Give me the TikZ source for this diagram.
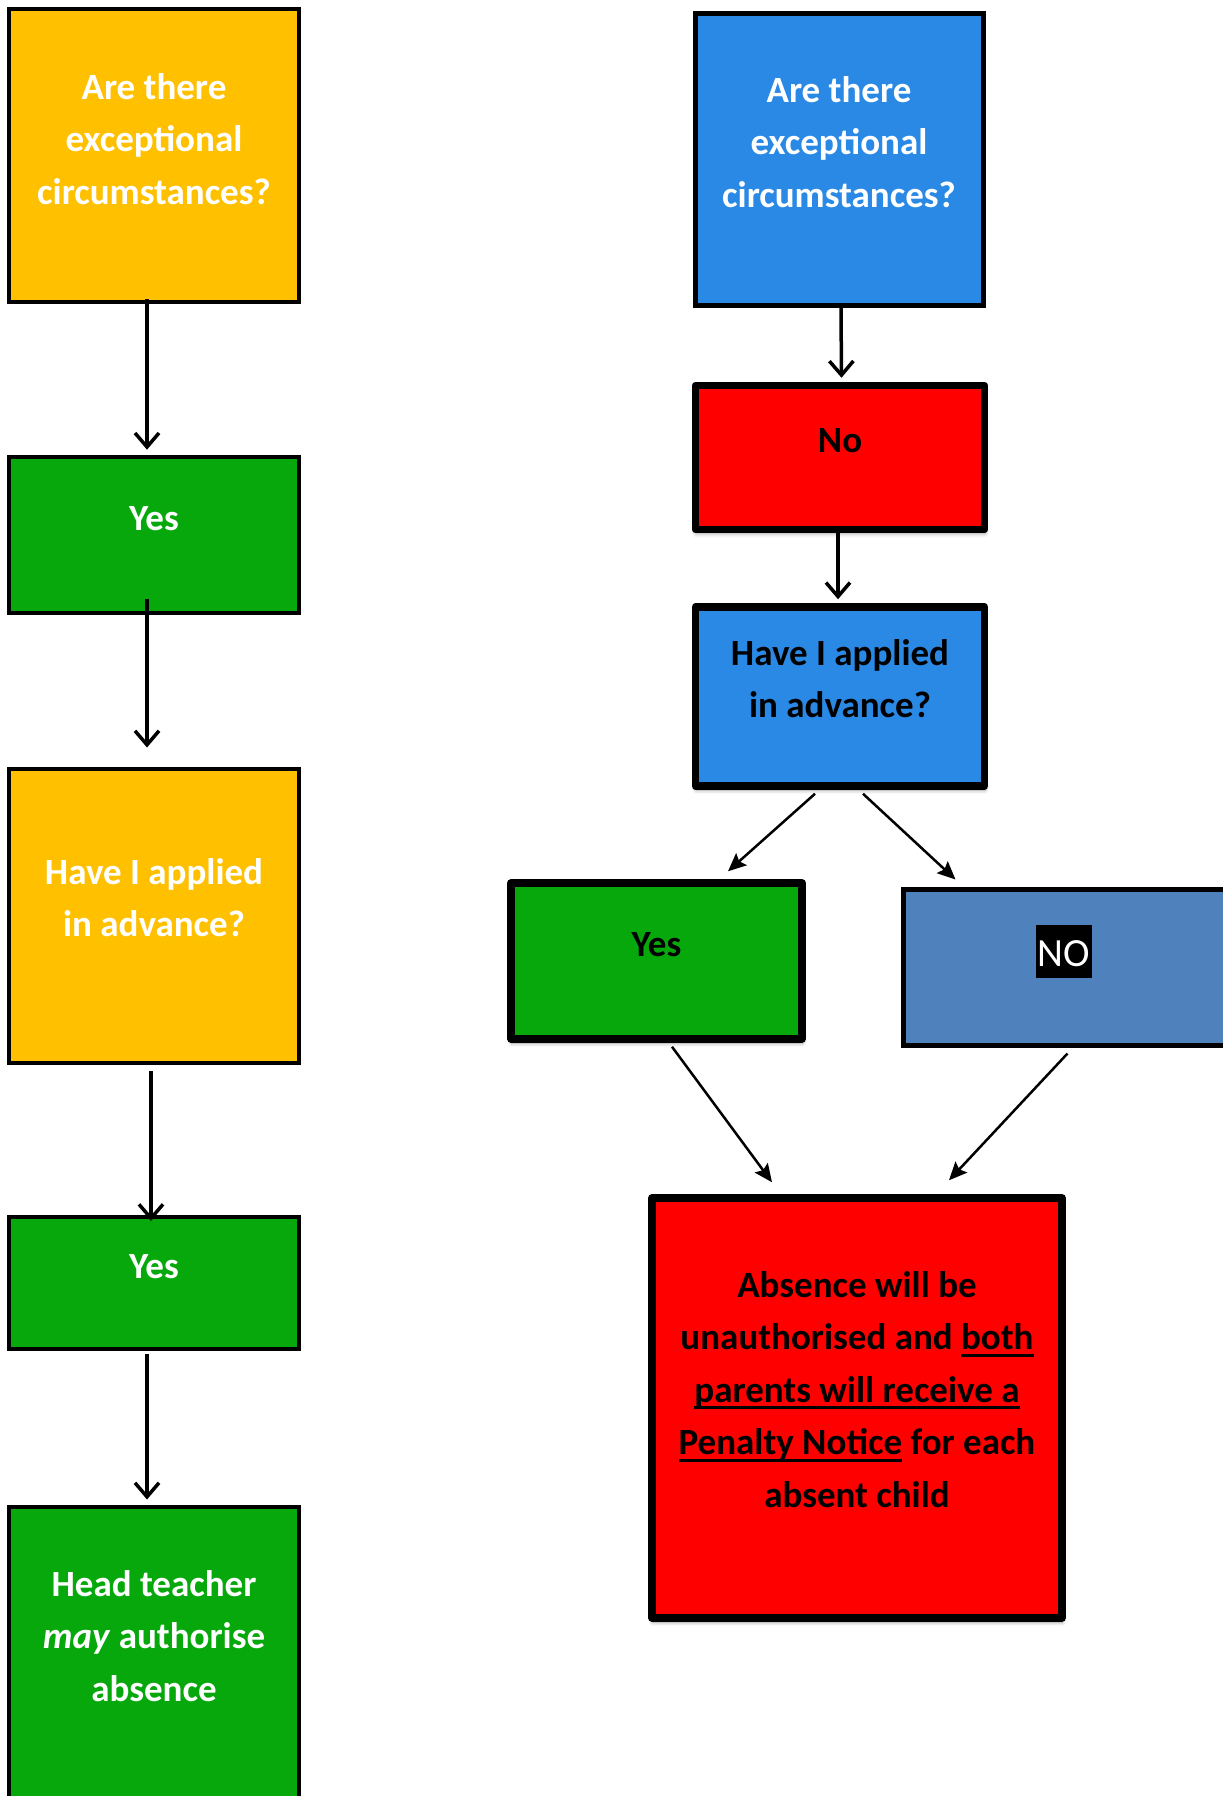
\documentclass[tikz,border=0pt]{standalone}
\usepackage{fontspec}
\setmainfont{Carlito}
\usetikzlibrary{arrows.meta,shadows.blur,calc}
\definecolor{cyellow}{HTML}{FFC000}
\definecolor{cgreen}{HTML}{06A80C}
\definecolor{cblue}{HTML}{2989E5}
\definecolor{cred}{HTML}{FF0000}
\definecolor{csteel}{HTML}{4F81BD}
\newsavebox{\myulbox}
\newcommand{\myul}[1]{\leavevmode\sbox{\myulbox}{#1}\rlap{\rule[-7pt]{\wd\myulbox}{3pt}}\usebox{\myulbox}}
\begin{document}
\begin{tikzpicture}[x=1pt,y=-1pt,
  lbox/.style={draw=black,line width=4pt,inner sep=0pt},
  thinbox/.style={draw=black,line width=5pt,inner sep=0pt},
  rbox/.style={draw=black,line width=7.5pt,inner sep=0pt,line join=round,
     blur shadow={shadow xshift=0.5pt,shadow yshift=-4pt,shadow blur radius=4pt,shadow opacity=40}},
  txt/.style={anchor=base,align=flush center,inner sep=0pt,text width=#1,font=\fontsize{37}{52.5}\selectfont\bfseries},
  txt/.default=280pt,
  larrow/.style={line width=3.5pt,-{Straight Barb[length=14pt,width=24pt]}},
  darrow/.style={line width=2.5pt,-{Stealth[length=18pt,width=16pt,inset=3pt]}},
]
\useasboundingbox (0,0) rectangle (1223,1796);
\clip (0,0) rectangle (1223,1796);

% left column boxes
\node[lbox,fill=cyellow,minimum width=289.4pt,minimum height=293pt] (l1) at (154,155.5) {};
\node[lbox,fill=cgreen,minimum width=289.4pt,minimum height=156pt] (l2) at (154,534.7) {};
\node[lbox,fill=cyellow,minimum width=289.4pt,minimum height=294.5pt] (l3) at (154,915.75) {};
\node[lbox,fill=cgreen,minimum width=289.4pt,minimum height=132pt] (l4) at (154,1283) {};
\node[lbox,fill=cgreen,minimum width=289.4pt,minimum height=313pt] (l5) at (154,1663) {};

% right column boxes
\node[thinbox,fill=cblue,minimum width=288pt,minimum height=292pt] (r1) at (839.5,159.5) {};
\node[rbox,fill=cred,minimum width=289pt,minimum height=144pt] (r2) at (840,457.5) {};
\node[rbox,fill=cblue,minimum width=289pt,minimum height=179pt] (r3) at (840,696.5) {};
\node[rbox,fill=cgreen,minimum width=291pt,minimum height=156pt] (r4) at (656.5,961) {};
\node[thinbox,fill=csteel,minimum width=339.5pt,minimum height=156pt] (r5) at (1073.25,967.5) {};
\node[rbox,fill=cred,minimum width=410pt,minimum height=420pt] (r6) at (857,1408) {};

% texts
\node[txt,text=white] (l1t) at (154,99) {Are there\\exceptional\\circumstances?};
\node[txt,text=white] (l2t) at (154,530) {Yes};
\node[txt,text=white] (l3t) at (154,884) {Have I applied\\in advance?};
\node[txt,text=white] (l4t) at (154,1278) {Yes};
\node[txt,text=white] (l5t) at (154,1596) {Head teacher\\\textit{may} authorise\\absence};

\node[txt,text=white] (r1t) at (839,102) {Are there\\exceptional\\circumstances?};
\node[txt,text=black] (r2t) at (840,452) {No};
\node[txt,text=black] (r3t) at (840,665) {Have I applied\\in advance?};
\node[txt,text=black] (r4t) at (656.5,956) {Yes};
\node[fill=black,text=white,inner xsep=2pt,inner ysep=0pt,text height=41pt,text depth=12pt,anchor=base,font=\fontsize{40}{48}\selectfont] (r5t) at (1064,966) {NO};
\node[txt=400pt,text=black] (r6t) at (857,1297) {Absence will be\\unauthorised and \myul{both}\\\myul{parents will receive a}\\\myul{Penalty Notice} for each\\absent child};

% left connectors
\draw[larrow] ([xshift=-7pt,yshift=5pt]l1.south) -- ([xshift=-7pt,yshift=5pt]l2.north);
\draw[larrow] ([xshift=-7pt,yshift=16pt]l2.south) -- ([xshift=-7pt,yshift=19pt]l3.north);
\draw[larrow] ([xshift=-3pt,yshift=-6pt]l3.south) -- ([xshift=-3pt,yshift=-6pt]l4.north);
\draw[larrow] ([xshift=-7pt,yshift=-3pt]l4.south) -- ([xshift=-7pt,yshift=5pt]l5.north);

% right connectors
\draw[larrow] ([xshift=1.5pt]r1.south) -- ([xshift=1.5pt,yshift=4pt]r2.north);
\draw[larrow] ([xshift=-2pt]r2.south) -- ([xshift=-2pt,yshift=4pt]r3.north);
\draw[darrow] ([xshift=-25pt,yshift=-4pt]r3.south) -- ([xshift=71.5pt,yshift=8pt]r4.north);
\draw[darrow] ([xshift=23pt,yshift=-4pt]r3.south) -- ([xshift=54.5pt,yshift=7.5pt]r5.north west);
\draw[darrow] ([xshift=15.5pt,yshift=-4pt]r4.south) -- ([xshift=-85pt,yshift=12pt]r6.north);
\draw[darrow] ([xshift=166.5pt,yshift=-5.5pt]r5.south west) -- ([xshift=92pt,yshift=14pt]r6.north);
\end{tikzpicture}
\end{document}
